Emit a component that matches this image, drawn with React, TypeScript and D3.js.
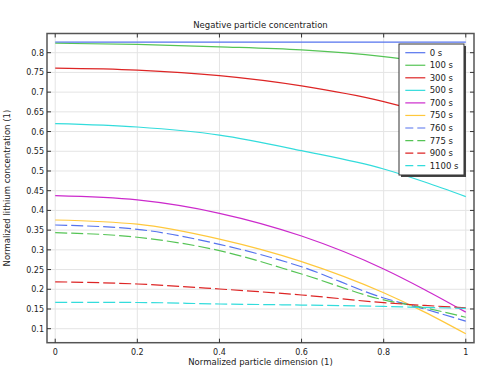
import React from "react";
import * as d3 from "d3";

const xs = [0, 0.2, 0.4, 0.6, 0.8, 0.9, 1];
const labels = ["0 s", "100 s", "300 s", "500 s", "700 s", "750 s", "760 s", "775 s", "900 s", "1100 s"];
const s0 = [0.827, 0.827, 0.827, 0.827, 0.827, 0.827, 0.827];
const s100 = [0.824, 0.821, 0.815, 0.807, 0.79, 0.777, 0.762];
const s300 = [0.761, 0.756, 0.742, 0.716, 0.676, 0.648, 0.615];
const s500 = [0.62, 0.6115, 0.591, 0.5515, 0.505, 0.472, 0.435];
const s700 = [0.4373, 0.4265, 0.3927, 0.335, 0.2515, 0.199, 0.142];
const s750 = [0.3757, 0.365, 0.327, 0.27, 0.191, 0.142, 0.087];
const s760 = [0.363, 0.352, 0.314, 0.257, 0.178, 0.15, 0.119];
const s775 = [0.3435, 0.332, 0.298, 0.2387, 0.173, 0.153, 0.129];
const s900 = [0.219, 0.2134, 0.2007, 0.1855, 0.166, 0.159, 0.153];
const s1100 = [0.1667, 0.1665, 0.1627, 0.16, 0.1565, 0.154, 0.1518];
const seriesValues = [s0, s100, s300, s500, s700, s750, s760, s775, s900, s1100];
const colors = ["#5573ee", "#55c455", "#dd2525", "#33dcdc", "#cc2acc", "#ffc83c", "#5573ee", "#55c455", "#dd2525", "#33dcdc"];
const dashed = [false, false, false, false, false, false, true, true, true, true];
const xTicks = [0, 0.2, 0.4, 0.6, 0.8, 1];
const yTicks = [0.1, 0.15, 0.2, 0.25, 0.3, 0.35, 0.4, 0.45, 0.5, 0.55, 0.6, 0.65, 0.7, 0.75, 0.8];

const W = 477, H = 369;
const L = 47, R = 474, T = 33.5, B = 342.7;
const FONT = "DejaVu Sans, sans-serif";

export default function App() {
  const x = d3.scaleLinear().domain([-0.02, 1.02]).range([L, R]);
  const y = d3.scaleLinear().domain([0.0645, 0.8487]).range([B, T]);
  const line = d3.line<number>().x((_, i) => x(xs[i])).y((d) => y(d)).curve(d3.curveMonotoneX);
  const fmt = (v: number) => String(+v.toFixed(2));
  const legX = 399, legY = 44, legW = 65, legH = 131;
  return (
    <svg width={W} height={H} style={{ position: "fixed", left: 0, top: 0, background: "#fff" }} fontFamily={FONT}>
      <rect x={0} y={0} width={W} height={H} fill="#fff" />
      {xTicks.map((t) => (
        <line key={"gx" + t} x1={x(t)} x2={x(t)} y1={T} y2={B} stroke="#e4e4e4" strokeWidth={1} />
      ))}
      {yTicks.map((t) => (
        <line key={"gy" + t} x1={L} x2={R} y1={y(t)} y2={y(t)} stroke="#e4e4e4" strokeWidth={1} />
      ))}
      <text x={(L + R) / 2} y={28} textAnchor="middle" fontSize={8.5} fill="#222">Negative particle concentration</text>
      {seriesValues.map((vals, i) => (
        <path key={labels[i]} d={line(vals) || ""} fill="none" stroke={colors[i]} strokeWidth={1.2}
          strokeDasharray={dashed[i] ? "12,4" : undefined} />
      ))}
      <rect x={L} y={T} width={R - L} height={B - T} fill="none" stroke="#555" strokeWidth={1.5} />
      {xTicks.map((t) => (
        <g key={"tx" + t}>
          <line x1={x(t)} x2={x(t)} y1={B} y2={B - 4} stroke="#333" />
          <line x1={x(t)} x2={x(t)} y1={T} y2={T + 4} stroke="#333" />
          <text x={x(t)} y={355} textAnchor="middle" fontSize={8} fill="#222">{fmt(t)}</text>
        </g>
      ))}
      {yTicks.map((t) => (
        <g key={"ty" + t}>
          <line x1={L} x2={L + 4} y1={y(t)} y2={y(t)} stroke="#333" />
          <line x1={R} x2={R - 4} y1={y(t)} y2={y(t)} stroke="#333" />
          <text x={44} y={y(t) + 3} textAnchor="end" fontSize={8} fill="#222">{fmt(t)}</text>
        </g>
      ))}
      <text x={(L + R) / 2} y={365} textAnchor="middle" fontSize={8.5} fill="#222">Normalized particle dimension (1)</text>
      <text transform={`translate(10,${(T + B) / 2}) rotate(-90)`} textAnchor="middle" fontSize={8.5} fill="#222">Normalized lithium concentration (1)</text>
      <rect x={legX + 2} y={legY + 2} width={legW} height={legH} fill="#444" />
      <rect x={legX} y={legY} width={legW} height={legH} fill="#fff" stroke="#333" strokeWidth={1} />
      {labels.map((lab, i) => {
        const ly = 52.7 + i * 12.55;
        return (
          <g key={"leg" + lab}>
            <line x1={405.3} x2={425.3} y1={ly} y2={ly} stroke={colors[i]} strokeWidth={1.2}
              strokeDasharray={dashed[i] ? "8,4" : undefined} />
            <text x={429.7} y={ly + 3} fontSize={8.5} fill="#222">{lab}</text>
          </g>
        );
      })}
    </svg>
  );
}
